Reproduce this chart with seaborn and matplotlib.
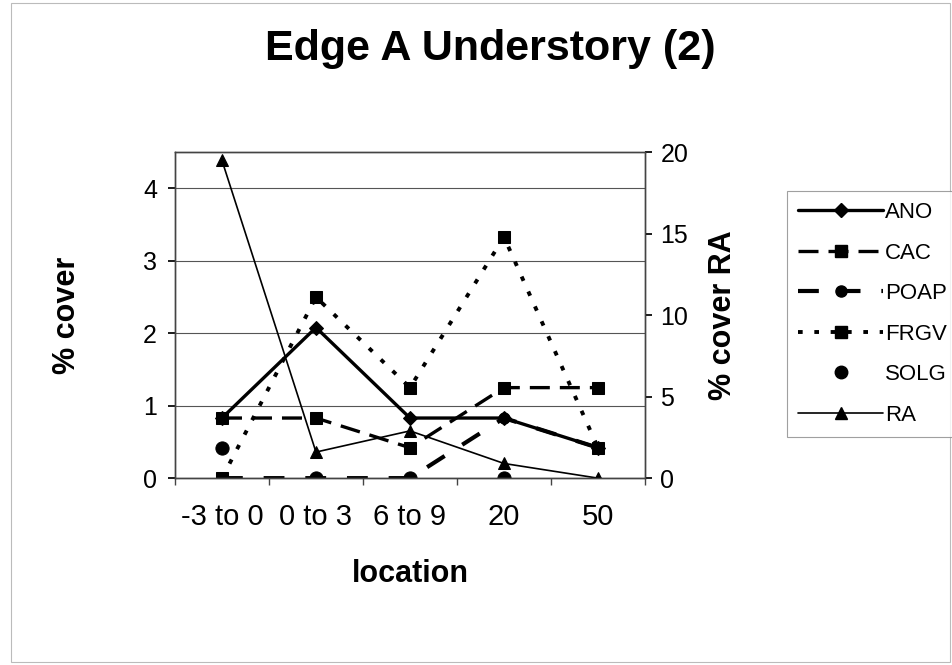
import numpy as np
import pandas as pd
import matplotlib
matplotlib.use("Agg")
import matplotlib.pyplot as plt
import seaborn as sns
from matplotlib.lines import Line2D
from matplotlib.patches import Rectangle

locations = ["-3 to 0", "0 to 3", "6 to 9", "20", "50"]
ano = [0.83, 2.08, 0.83, 0.83, 0.42]
cac = [0.83, 0.83, 0.42, 1.25, 1.25]
poap = [0.0, 0.0, 0.0, 0.83, 0.42]
frgv = [0.0, 2.5, 1.25, 3.33, 0.42]
solg = [0.42, 0.0, 0.0, 0.0, np.nan]
ra = [19.5, 1.6, 2.9, 0.9, 0.0]
series_names = ["ANO", "CAC", "POAP", "FRGV", "SOLG", "RA"]

left_ticks = [0, 1, 2, 3, 4]
right_ticks = [0, 5, 10, 15, 20]

sns.set_theme(style="white")
plt.rcParams["font.family"] = ["Liberation Sans", "DejaVu Sans"]
plt.rcParams["text.color"] = "black"
plt.rcParams["axes.labelcolor"] = "black"

fig = plt.figure(figsize=(9.53, 6.65), dpi=100)
ax = fig.add_axes([0.1836, 0.281, 0.4932, 0.490])
ax2 = ax.twinx()

k = "black"
styles = [
    dict(linestyle="-", lw=2.4, marker="D", ms=7),
    dict(linestyle=(0, (6, 3)), lw=2.4, marker="s", ms=8),
    dict(linestyle=(0, (5, 5)), lw=3.0, marker="o", ms=8),
    dict(linestyle=(0, (1.2, 3)), lw=2.8, marker="s", ms=8),
]
for name, vals, st in zip(series_names[:4], [ano, cac, poap, frgv], styles):
    sns.lineplot(x=locations, y=vals, ax=ax, color=k, sort=False,
                 markeredgecolor=k, legend=False, **st)
sns.scatterplot(x=locations, y=solg, ax=ax, color=k, s=90, marker="o",
                edgecolor=k, legend=False)
sns.lineplot(x=locations, y=ra, ax=ax2, color=k, lw=1.2, marker="^", ms=8,
             markeredgecolor=k, sort=False, legend=False)

ax.set_xlim(-0.5, 4.5)
ax.set_ylim(0, 4.5)
ax2.set_ylim(0, 20)
ax.set_yticks(left_ticks)
ax2.set_yticks(right_ticks)
ax.set_xticks(range(len(locations)))
ax.set_xticklabels(locations)
ax.yaxis.grid(True, color="#555555", lw=0.8)
ax.xaxis.grid(False)
ax.set_axisbelow(True)

for a in (ax, ax2):
    for sp in a.spines.values():
        sp.set_color("#444444")
        sp.set_linewidth(1.0)
ax.tick_params(axis="y", labelsize=18, colors=k, length=5, direction="out",
               left=True, pad=8)
ax.tick_params(axis="x", labelsize=21, colors=k, bottom=False, pad=12)
ax2.tick_params(axis="y", labelsize=18, colors=k, length=5, direction="out",
                right=True, pad=6)
ax.set_xticks([-0.5, 0.5, 1.5, 2.5, 3.5, 4.5], minor=True)
ax.tick_params(axis="x", which="minor", bottom=True, length=5, color="#444444")

ax.set_xlabel("location", fontsize=22, fontweight="bold", labelpad=20, color=k)
ax.set_ylabel("% cover", fontsize=22, fontweight="bold", labelpad=44, color=k)
ax2.set_ylabel("% cover RA", fontsize=22, fontweight="bold", labelpad=14, color=k)

fig.text(0.515, 0.926, "Edge A Understory (2)", ha="center", va="center",
         fontsize=31, fontweight="bold", color=k)

leg_handles = [
    Line2D([], [], color=k, lw=2.4, marker="D", ms=7),
    Line2D([], [], color=k, lw=2.4, linestyle=(0, (6, 3)), marker="s", ms=8),
    Line2D([], [], color=k, lw=3.0, linestyle=(0, (5, 5)), marker="o", ms=8),
    Line2D([], [], color=k, lw=2.8, linestyle=(0, (1.2, 3)), marker="s", ms=8),
    Line2D([], [], color=k, lw=0, marker="o", ms=9),
    Line2D([], [], color=k, lw=1.2, marker="^", ms=8),
]
leg = fig.legend(leg_handles, series_names,
                 loc="upper left", bbox_to_anchor=(0.826, 0.713),
                 fontsize=16, frameon=True, fancybox=False, handlelength=3.8,
                 handletextpad=0.1, labelspacing=0.88, borderpad=0.5,
                 borderaxespad=0, edgecolor="#888888")
leg.get_frame().set_linewidth(0.8)

fig.patches.append(Rectangle((0.012, 0.005), 0.985, 0.99, transform=fig.transFigure,
                             fill=False, edgecolor="#bbbbbb", lw=0.8))

fig.savefig("out.png", dpi=100)
